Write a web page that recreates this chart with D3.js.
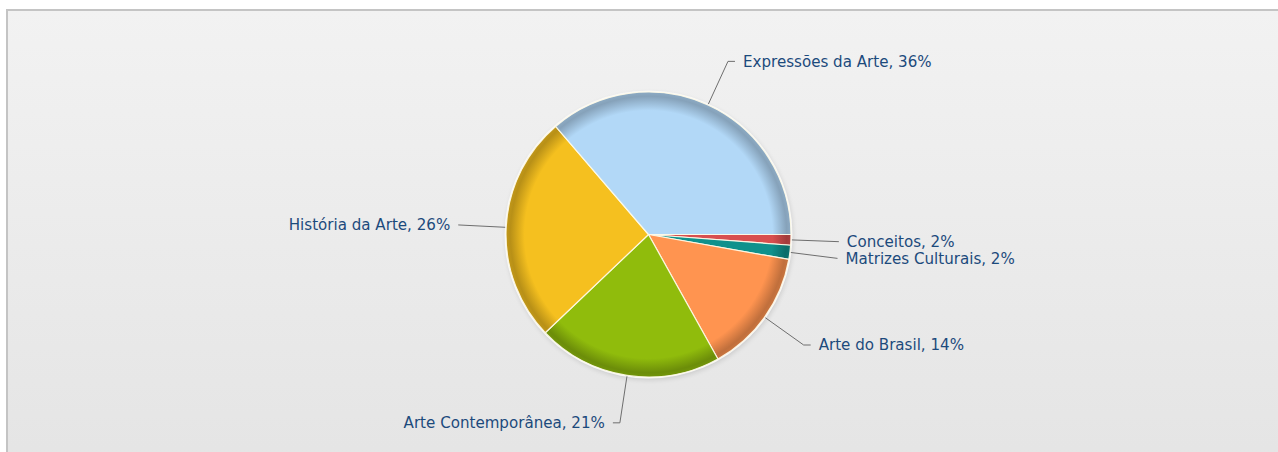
<!DOCTYPE html>
<html>
<head>
<meta charset="utf-8">
<script src="https://cdn.jsdelivr.net/npm/d3@7"></script>
<style>
  html, body { margin: 0; padding: 0; background: #ffffff; }
  svg { display: block; }
</style>
</head>
<body>
<svg id="chart" width="1278" height="452"></svg>
<script>
// Data (clockwise from 3 o'clock)
const categories = ["Conceitos", "Matrizes Culturais", "Arte do Brasil", "Arte Contemporânea", "História da Arte", "Expressões da Arte"];
const values = [1.2, 1.6, 14.1, 21.0, 25.8, 36.3];
const percentLabels = ["2%", "2%", "14%", "21%", "26%", "36%"];
const colors = ["#d84f4f", "#0f918c", "#ff9450", "#90bc0c", "#f5c01f", "#b2d8f7"];

const W = 1278, H = 452;
const cx = 648.5, cy = 234.5, R = 142.5;

const svg = d3.select("#chart");
const defs = svg.append("defs");

// background
const bg = defs.append("linearGradient").attr("id", "bg").attr("x1", 0).attr("y1", 0).attr("x2", 0).attr("y2", 1);
bg.append("stop").attr("offset", "0%").attr("stop-color", "#f2f2f2");
bg.append("stop").attr("offset", "100%").attr("stop-color", "#e4e4e4");
svg.append("rect").attr("x", 7).attr("y", 10).attr("width", W + 20).attr("height", H + 20)
  .attr("fill", "url(#bg)").attr("stroke", "#c4c4c4").attr("stroke-width", 2);

// shadow filter
const f = defs.append("filter").attr("id", "shadow").attr("x", "-20%").attr("y", "-20%").attr("width", "140%").attr("height", "140%");
f.append("feGaussianBlur").attr("stdDeviation", 2.5);

const g = svg.append("g").attr("transform", `translate(${cx},${cy})`);

// soft shadow and light rim
g.append("circle").attr("cx", 1).attr("cy", 2).attr("r", R + 1).attr("fill", "#000").attr("opacity", 0.12).attr("filter", "url(#shadow)");
g.append("circle").attr("r", R + 1.5).attr("fill", "#fbfbfb").attr("opacity", 0.9);

// per-slice radial gradients
colors.forEach((c, i) => {
  const rg = defs.append("radialGradient").attr("id", "rg" + i)
    .attr("gradientUnits", "userSpaceOnUse").attr("cx", 0).attr("cy", 0).attr("r", R);
  rg.append("stop").attr("offset", "0%").attr("stop-color", c);
  rg.append("stop").attr("offset", "87%").attr("stop-color", c);
  rg.append("stop").attr("offset", "97%").attr("stop-color", d3.color(c).darker(0.8));
  rg.append("stop").attr("offset", "100%").attr("stop-color", d3.color(c).darker(0.65));
});

const pie = d3.pie().sort(null).value(d => d)
  .startAngle(Math.PI / 2).endAngle(Math.PI / 2 + 2 * Math.PI);
const arcs = pie(values);
const arc = d3.arc().innerRadius(0).outerRadius(R);

g.selectAll("path.slice").data(arcs).join("path").attr("class", "slice")
  .attr("d", arc)
  .attr("fill", (d, i) => `url(#rg${i})`)
  .attr("stroke", "#fffbe8").attr("stroke-opacity", 0.9).attr("stroke-width", 1.2)
  .attr("stroke-linejoin", "round");

// labels
const elbowR = R + 48, gap = 8;
arcs.forEach((d, i) => {
  const a = (d.startAngle + d.endAngle) / 2; // d3 angle: 0 at 12 o'clock, clockwise
  const sx = Math.sin(a) * (R + 1), sy = -Math.cos(a) * (R + 1);
  const ex = Math.sin(a) * elbowR, ey = -Math.cos(a) * elbowR;
  const right = Math.sin(a) >= 0;
  const horiz = Math.abs(Math.cos(a)) > 0.3 ? 7 : 0;
  const hx = ex + (right ? horiz : -horiz);
  g.append("polyline")
    .attr("points", `${sx},${sy} ${ex},${ey} ${hx},${ey}`)
    .attr("fill", "none").attr("stroke", "#6e6e6e").attr("stroke-width", 1);
  g.append("text")
    .attr("x", hx + (right ? gap : -gap)).attr("y", ey)
    .attr("dy", "0.36em")
    .attr("text-anchor", right ? "start" : "end")
    .attr("font-family", "Verdana, 'DejaVu Sans', sans-serif")
    .attr("font-size", "15.1px")
    .attr("fill", "#1c4a7c")
    .text(`${categories[i]}, ${percentLabels[i]}`);
});
</script>
</body>
</html>
